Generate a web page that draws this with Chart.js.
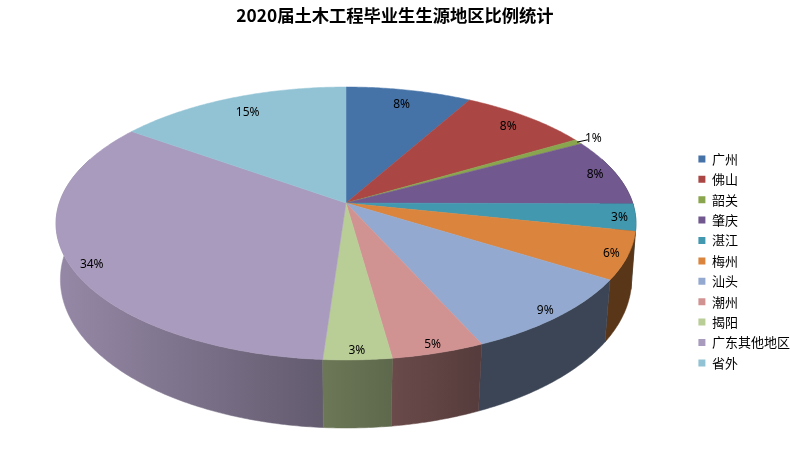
<!DOCTYPE html>
<html>
<head>
<meta charset="utf-8">
<style>
  html, body { margin: 0; padding: 0; background: #fff; }
  canvas { display: block; }
</style>
<script src="https://cdn.jsdelivr.net/npm/chart.js@4"></script>
</head>
<body>
<canvas id="sourceChart" width="790" height="473"></canvas>
<script>
const regions = ['广州', '佛山', '韶关', '肇庆', '湛江', '梅州', '汕头', '潮州', '揭阳', '广东其他地区', '省外'];
const shares = [8.1, 8.4, 0.6, 8.0, 3.2, 5.6, 9.4, 4.5, 3.3, 33.8, 15.1];
const colors = ['#4572A7', '#AA4643', '#89A54E', '#71588F', '#4198AF', '#DB843D', '#93A9CF', '#D19392', '#B9CD96', '#A99BBD', '#92C3D4'];

// perspective of the two rims: the apex is not in the middle of the ellipse
const topRim = { cx: 346, cy: 203, a: 133.4, c: -0.15, d: 286.7 };
const bottomRim = { cx: 346, cy: 258.6, a: 145.7, c: -0.14, d: 282.8 };

function project(rim, angle, r = 1) {
  const u = r * Math.sin(angle);
  const v = -r * Math.cos(angle);
  const w = 1 + rim.c * v;
  return { x: rim.cx + rim.d * u / w, y: rim.cy + rim.a * v / w };
}

function shade(hex, f) {
  const n = parseInt(hex.slice(1), 16);
  const ch = s => Math.round(((n >> s) & 255) * f);
  return `rgb(${ch(16)}, ${ch(8)}, ${ch(0)})`;
}

function traceRim(ctx, rim, from, to) {
  const steps = Math.max(2, Math.ceil(Math.abs(to - from) / 0.01));
  for (let i = 0; i <= steps; i++) {
    const p = project(rim, from + (to - from) * i / steps);
    ctx.lineTo(p.x, p.y);
  }
}

const pie3d = {
  id: 'pie3d',
  beforeDatasetDraw(chart, args) {
    const ctx = chart.ctx;
    const arcs = chart.getDatasetMeta(args.index).data;
    const slices = arcs.map((arc, i) => ({
      i,
      start: arc.startAngle + Math.PI / 2,
      end: arc.endAngle + Math.PI / 2
    }));

    // side wall, outer slices first so the front ones sit on top
    const wallFrom = 70 * Math.PI / 180;
    const wallTo = 290 * Math.PI / 180;
    const ordered = [...slices].sort((a, b) =>
      Math.abs((b.start + b.end) / 2 - Math.PI) - Math.abs((a.start + a.end) / 2 - Math.PI));
    ordered.forEach(s => {
      const from = Math.max(s.start, wallFrom);
      const to = Math.min(s.end, wallTo);
      if (to <= from) return;
      const grad = ctx.createLinearGradient(60, 0, 478, 0);
      grad.addColorStop(0, shade(colors[s.i], 0.88));
      grad.addColorStop(1, shade(colors[s.i], 0.41));
      ctx.beginPath();
      traceRim(ctx, topRim, from, to);
      traceRim(ctx, bottomRim, to, from);
      ctx.closePath();
      ctx.fillStyle = grad;
      ctx.strokeStyle = grad;
      ctx.lineWidth = 0.5;
      ctx.fill();
      ctx.stroke();
    });

    // top face
    slices.forEach(s => {
      ctx.beginPath();
      ctx.moveTo(topRim.cx, topRim.cy);
      traceRim(ctx, topRim, s.start, s.end);
      ctx.closePath();
      ctx.fillStyle = colors[s.i];
      ctx.strokeStyle = colors[s.i];
      ctx.lineWidth = 0.5;
      ctx.fill();
      ctx.stroke();
    });

    // percentage labels
    ctx.font = '12px "Noto Sans"';
    ctx.textAlign = 'center';
    ctx.textBaseline = 'middle';
    slices.forEach(s => {
      const mid = (s.start + s.end) / 2;
      const share = shares[s.i];
      let r = 0.945 + 0.08 * Math.min(0, -Math.cos(mid)) + 0.025 * Math.min(0, Math.sin(mid));
      if (share < 1) {
        // too small to hold its label: put it outside with a leader line
        r = 1.07;
        const a = project(topRim, mid, 0.995);
        const b = project(topRim, mid, 1.035);
        ctx.beginPath();
        ctx.moveTo(a.x, a.y);
        ctx.lineTo(b.x + 2, b.y);
        ctx.strokeStyle = '#000';
        ctx.lineWidth = 1;
        ctx.stroke();
      }
      const p = project(topRim, mid, r);
      // left side labels sit a little off the radial line
      const nudgeX = mid > 1.5 * Math.PI ? 3 : 0;
      const nudgeY = mid > Math.PI && mid < 1.5 * Math.PI ? 5 : 0;
      ctx.fillStyle = '#000';
      ctx.fillText(Math.round(share) + '%', p.x + nudgeX, p.y + 1 + nudgeY);
    });
    return false;
  }
};

new Chart(document.getElementById('sourceChart'), {
  type: 'pie',
  data: {
    labels: regions,
    datasets: [{ data: shares, backgroundColor: colors, borderWidth: 0 }]
  },
  options: {
    responsive: false,
    animation: false,
    devicePixelRatio: 1,
    events: [],
    plugins: {
      title: {
        display: true,
        text: '2020届土木工程毕业生生源地区比例统计',
        color: '#000',
        font: { family: '"Noto Sans CJK SC"', size: 17.3, weight: 'bold', lineHeight: 1.2 },
        padding: { top: 5, bottom: 23 }
      },
      legend: {
        position: 'right',
        fullSize: false,
        maxWidth: 99,
        labels: {
          boxWidth: 7,
          boxHeight: 7,
          padding: 7.4,
          color: '#000',
          font: { family: '"Noto Sans CJK SC"', size: 13, lineHeight: 1 }
        }
      },
      tooltip: { enabled: false }
    }
  },
  plugins: [pie3d]
});
</script>
</body>
</html>
